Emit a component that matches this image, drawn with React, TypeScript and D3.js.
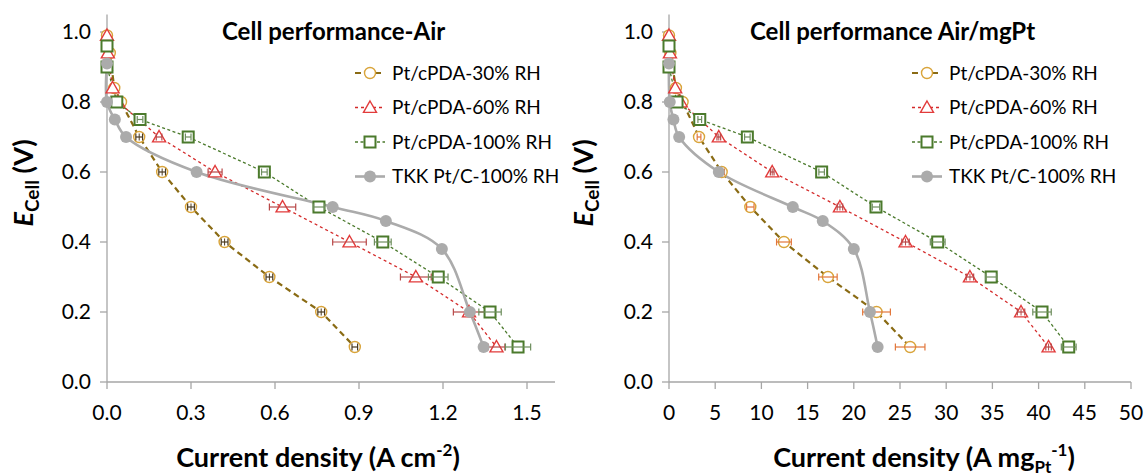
import React from 'react';
import * as d3 from 'd3';

// ---------- DATA ----------
// Left panel: current density (A cm-2)
const a30X = [0, 0.01, 0.026, 0.05, 0.115, 0.197, 0.30, 0.42, 0.58, 0.765, 0.885];
const a30Y = [0.99, 0.94, 0.84, 0.80, 0.70, 0.60, 0.50, 0.40, 0.30, 0.20, 0.10];
const a30E = [0, 0, 0, 0, 0.012, 0.012, 0.012, 0.012, 0.012, 0.012, 0.01];
const a30YE = [0, 0, 0, 0, 0.01, 0.01, 0.01, 0.01, 0.01, 0.01, 0];

const a60X = [0, 0.003, 0.02, 0.04, 0.186, 0.386, 0.627, 0.866, 1.103, 1.293, 1.391];
const a60Y = [0.99, 0.94, 0.84, 0.80, 0.70, 0.60, 0.50, 0.40, 0.30, 0.20, 0.10];
const a60E = [0, 0, 0, 0, 0.01, 0.025, 0.047, 0.06, 0.055, 0.056, 0.03];

const a100X = [0, 0, 0.035, 0.118, 0.29, 0.562, 0.757, 0.985, 1.183, 1.368, 1.468];
const a100Y = [0.96, 0.90, 0.80, 0.75, 0.70, 0.60, 0.50, 0.40, 0.30, 0.20, 0.10];
const a100E = [0, 0, 0, 0.01, 0.01, 0.01, 0.02, 0.03, 0.035, 0.04, 0.045];

const aTkkX = [0, 0, 0.028, 0.068, 0.32, 0.806, 0.996, 1.196, 1.296, 1.345];
const aTkkY = [0.91, 0.80, 0.75, 0.70, 0.60, 0.50, 0.46, 0.38, 0.20, 0.10];

// Right panel: current density (A mgPt-1)
const m30X = [0, 0.15, 0.75, 1.47, 3.25, 5.7, 8.8, 12.44, 17.2, 22.46, 26.1];
const m30Y = [0.99, 0.94, 0.84, 0.80, 0.70, 0.60, 0.50, 0.40, 0.30, 0.20, 0.10];
const m30E = [0, 0, 0, 0, 0.2, 0.3, 0.4, 0.8, 1.0, 1.5, 1.6];

const m60X = [0, 0.1, 0.67, 1.27, 5.39, 11.17, 18.5, 25.6, 32.57, 38.1, 41.08];
const m60Y = [0.99, 0.94, 0.84, 0.80, 0.70, 0.60, 0.50, 0.40, 0.30, 0.20, 0.10];
const m60E = [0, 0, 0, 0, 0.2, 0.2, 0.3, 0.4, 0.4, 0.4, 0.3];
const m60YE = [0, 0, 0, 0, 0.01, 0.01, 0.01, 0.01, 0.01, 0.01, 0.01];

const m100X = [0, 0, 0.87, 3.33, 8.48, 16.52, 22.4, 29.08, 34.87, 40.37, 43.26];
const m100Y = [0.96, 0.90, 0.80, 0.75, 0.70, 0.60, 0.50, 0.40, 0.30, 0.20, 0.10];
const m100E = [0, 0, 0, 0.2, 0.3, 0.3, 0.4, 0.8, 0.6, 1.0, 0.8];

const mTkkX = [0, 0.08, 0.48, 1.1, 5.39, 13.4, 16.64, 20.0, 21.75, 22.58];
const mTkkY = [0.91, 0.80, 0.75, 0.70, 0.60, 0.50, 0.46, 0.38, 0.20, 0.10];

const seriesNames = ['Pt/cPDA-30% RH', 'Pt/cPDA-60% RH', 'Pt/cPDA-100% RH', 'TKK Pt/C-100% RH'];
const yTicks = [0, 0.2, 0.4, 0.6, 0.8, 1.0];
const xTicksA = [0, 0.3, 0.6, 0.9, 1.2, 1.5];
const xTicksM = [0, 5, 10, 15, 20, 25, 30, 35, 40, 45, 50];

// ---------- STYLES ----------
const FONT = "Lato, 'Open Sans', sans-serif";
const AXIS = '#A6A6A6';
const styles = [
  { marker: 'circle', stroke: '#D9A43A', line: '#8A6B14', lw: 2.2, dash: '6,4', curve: 'linear', err: '#4a3a20', errR: '#E2763A' },
  { marker: 'triangle', stroke: '#E23B3B', line: '#D42A2A', lw: 1.3, dash: '3,3', curve: 'linear', err: '#B84848', errR: '#B84848' },
  { marker: 'square', stroke: '#4B7A2C', line: '#4B7A2C', lw: 1.3, dash: '3,2.5', curve: 'linear', err: '#6E8E5E', errR: '#6E8E5E' },
  { marker: 'dot', stroke: '#ABABAB', line: '#ABABAB', lw: 2.6, dash: null, curve: 'smooth', err: null, errR: null },
];

function Marker({ kind, x, y, st }: any) {
  if (kind === 'circle') return <circle cx={x} cy={y} r={5.5} fill="white" stroke={st.stroke} strokeWidth={1.4} />;
  if (kind === 'triangle') {
    const s = 6.5;
    return <path d={`M${x},${y - s}L${x + s},${y + s * 0.75}L${x - s},${y + s * 0.75}Z`} fill="white" stroke={st.stroke} strokeWidth={1.4} />;
  }
  if (kind === 'square') return <rect x={x - 5.5} y={y - 5.5} width={11} height={11} fill="white" stroke={st.stroke} strokeWidth={2} />;
  return <circle cx={x} cy={y} r={6} fill={st.stroke} />;
}

function Panel({ x0, x1, xDomainMax, xTicks, fmt, data, title, titleX, xLabel, xLabelX, yLabelX, legendX, right }: any) {
  const xs = d3.scaleLinear().domain([0, xDomainMax]).range([x0, x1]);
  const ys = d3.scaleLinear().domain([0, 1]).range([382, 32]);
  const yTop = ys(1.05);
  const lineLin = d3.line<[number, number]>().x(d => xs(d[0])).y(d => ys(d[1]));
  const lineSmooth = d3.line<[number, number]>().x(d => xs(d[0])).y(d => ys(d[1])).curve(d3.curveCatmullRom.alpha(0.5));
  return (
    <g>
      {/* axes */}
      <line x1={x0} x2={x0} y1={yTop} y2={ys(0)} stroke={AXIS} strokeWidth={1.3} />
      <line x1={x0} x2={x1} y1={ys(0)} y2={ys(0)} stroke={AXIS} strokeWidth={1.3} />
      {yTicks.map(t => (
        <g key={'y' + t}>
          <line x1={x0 - 7} x2={x0} y1={ys(t)} y2={ys(t)} stroke={AXIS} strokeWidth={1.3} />
          <text x={x0 - 16} y={ys(t)} dy="0.35em" textAnchor="end" fontSize={21} fill="#000">{d3.format('.1f')(t)}</text>
        </g>
      ))}
      {xTicks.map((t: number) => (
        <g key={'x' + t}>
          <line x1={xs(t)} x2={xs(t)} y1={ys(0)} y2={ys(0) + 7} stroke={AXIS} strokeWidth={1.3} />
          <text x={xs(t)} y={420} textAnchor="middle" fontSize={21} fill="#000">{fmt(t)}</text>
        </g>
      ))}
      {/* lines */}
      {data.map((s: any, i: number) => {
        const st = styles[i];
        const pts: [number, number][] = s.x.map((v: number, j: number) => [v, s.y[j]]);
        const d = st.curve === 'smooth' ? lineSmooth(pts) : lineLin(pts);
        return <path key={'l' + i} d={d || ''} fill="none" stroke={st.line} strokeWidth={st.lw} strokeDasharray={st.dash || undefined} />;
      })}
      {/* markers + error bars */}
      {data.map((s: any, i: number) => {
        const st = styles[i];
        const ec = right ? st.errR : st.err;
        return (
          <g key={'m' + i}>
            {s.x.map((v: number, j: number) => {
              const cx = xs(v), cy = ys(s.y[j]);
              const e = s.e ? s.e[j] : 0;
              const ye = s.ye ? s.ye[j] : 0;
              return (
                <g key={j}>
                  <Marker kind={st.marker} x={cx} y={cy} st={st} />
                  {e > 0 && ec && (
                    <g stroke={ec} strokeWidth={1.2}>
                      <line x1={xs(v - e)} x2={xs(v + e)} y1={cy} y2={cy} />
                      <line x1={xs(v - e)} x2={xs(v - e)} y1={cy - 3.5} y2={cy + 3.5} />
                      <line x1={xs(v + e)} x2={xs(v + e)} y1={cy - 3.5} y2={cy + 3.5} />
                    </g>
                  )}
                  {ye > 0 && ec && (
                    <g stroke={ec} strokeWidth={1}>
                      <line x1={cx} x2={cx} y1={ys(s.y[j] + ye)} y2={ys(s.y[j] - ye)} />
                    </g>
                  )}
                </g>
              );
            })}
          </g>
        );
      })}
      {/* title */}
      <text x={titleX} y={40} fontSize={24} fontWeight="bold" fill="#000">{title}</text>
      {/* legend */}
      {seriesNames.map((n, i) => {
        const st = styles[i];
        const ly = 73 + i * 34.5;
        return (
          <g key={'lg' + i}>
            <line x1={legendX} x2={legendX + 30} y1={ly} y2={ly} stroke={st.line} strokeWidth={st.lw} strokeDasharray={st.dash || undefined} />
            <Marker kind={st.marker} x={legendX + 15} y={ly} st={st} />
            <text x={legendX + 37} y={ly} dy="0.35em" fontSize={19} fill="#000">{n}</text>
          </g>
        );
      })}
      {/* axis labels */}
      <text x={xLabelX} y={467} textAnchor="middle" fontSize={27} fontWeight="bold" fill="#000">
        {xLabel}
      </text>
      <text transform={`translate(${yLabelX},183) rotate(-90)`} textAnchor="middle" fontSize={27} fontWeight="bold" fill="#000">
        <tspan fontStyle="italic">E</tspan>
        <tspan fontSize={19} dy={6}>Cell</tspan>
        <tspan dy={-6}> (V)</tspan>
      </text>
    </g>
  );
}

export default function App() {
  const leftData = [
    { x: a30X, y: a30Y, e: a30E, ye: a30YE },
    { x: a60X, y: a60Y, e: a60E, ye: null },
    { x: a100X, y: a100Y, e: a100E, ye: null },
    { x: aTkkX, y: aTkkY, e: null, ye: null },
  ];
  const rightData = [
    { x: m30X, y: m30Y, e: m30E, ye: null },
    { x: m60X, y: m60Y, e: m60E, ye: m60YE },
    { x: m100X, y: m100Y, e: m100E, ye: null },
    { x: mTkkX, y: mTkkY, e: null, ye: null },
  ];
  return (
    <svg width={1145} height={476} style={{ position: 'absolute', left: 0, top: 0, background: 'white', fontFamily: FONT }}>
      <Panel x0={107} x1={555} xDomainMax={1.6} xTicks={xTicksA} fmt={d3.format('.1f')} data={leftData}
        title="Cell performance-Air" titleX={222} legendX={355} yLabelX={33} right={false} xLabelX={318}
        xLabel={<>Current density (A cm<tspan fontSize={17} dy={-11}>-2</tspan><tspan dy={11}>)</tspan></>} />
      <Panel x0={669} x1={1131} xDomainMax={50} xTicks={xTicksM} fmt={d3.format('d')} data={rightData}
        title="Cell performance Air/mgPt" titleX={750} legendX={912} yLabelX={593} right={true} xLabelX={924}
        xLabel={<>Current density (A mg<tspan fontSize={17} dy={6}>Pt</tspan><tspan fontSize={17} dy={-17}>-1</tspan><tspan dy={11}>)</tspan></>} />
    </svg>
  );
}
